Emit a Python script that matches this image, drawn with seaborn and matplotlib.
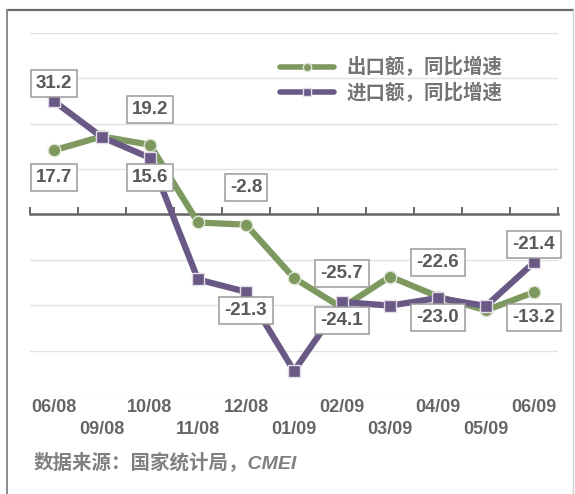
import numpy as np
import pandas as pd
import matplotlib
matplotlib.use("Agg")
import matplotlib.pyplot as plt
from matplotlib.lines import Line2D
import seaborn as sns

# --- 数据 ---
months = ["06/08", "09/08", "10/08", "11/08", "12/08", "01/09",
          "02/09", "03/09", "04/09", "05/09", "06/09"]
export_yoy = [17.7, 21.5, 19.2, -2.2, -2.8, -17.5, -25.7, -17.1, -22.6, -26.4, -21.4]
import_yoy = [31.2, 21.3, 15.6, -17.9, -21.3, -43.1, -24.1, -25.1, -23.0, -25.2, -13.2]

export_name = "出口额，同比增速"
import_name = "进口额，同比增速"

# 标注：(序列, 月份索引, 标注框纵向位置)
labels = [
    ("import", 0, 36.1), ("export", 0, 10.2),
    ("export", 2, 28.9), ("import", 2, 10.2),
    ("export", 4, 7.4), ("import", 4, -26.4),
    ("export", 6, -16.3), ("import", 6, -29.2),
    ("export", 8, -13.2), ("import", 8, -28.4),
    ("export", 10, -8.3), ("import", 10, -28.4),
]

green = "#7d9960"
purple = "#6a5985"
text_gray = "#5a5a5a"

df = pd.DataFrame({"idx": np.arange(len(months)),
                   "export": export_yoy, "import": import_yoy})

sns.set_style("white")
plt.rcParams['font.family'] = ['Liberation Sans', 'Noto Sans CJK SC', 'DejaVu Sans']

fig = plt.figure(figsize=(5.75, 4.94), dpi=100)
ax = fig.add_axes([30 / 575, 98 / 494, 528 / 575, 363 / 494])

sns.lineplot(data=df, x="idx", y="export", ax=ax, color=green, lw=4.5,
             marker="o", markersize=9, markeredgecolor="#dfe6d4",
             markeredgewidth=1, zorder=3, sort=False)
sns.lineplot(data=df, x="idx", y="import", ax=ax, color=purple, lw=4.5,
             marker="s", markersize=8, markeredgecolor="#e2dde9",
             markeredgewidth=1, zorder=4, sort=False)

ax.set_xlim(-0.5, len(months) - 0.5)
ax.set_ylim(-50, 50)
ax.set_yticks(np.arange(-50, 50.1, 12.5))
ax.yaxis.grid(True, color="#e2e2e2", lw=1)
ax.tick_params(axis="y", length=0, labelleft=False)
ax.set_xlabel("")
ax.set_ylabel("")

for s in ["top", "right", "left"]:
    ax.spines[s].set_visible(False)
ax.spines["bottom"].set_position(("data", 0))
ax.spines["bottom"].set_color("#666666")
ax.spines["bottom"].set_linewidth(1.8)
ax.spines["bottom"].set_zorder(2)
ax.set_xticks(np.arange(-0.5, len(months), 1.0))
ax.tick_params(axis="x", bottom=True, direction="in", length=5, width=1.4,
               color="#666666", labelbottom=False)

# 月份标签（两行交错）
tr = ax.get_xaxis_transform()
for i, m in enumerate(months):
    yy = -0.033 if i % 2 == 0 else -0.091
    ax.text(i, yy, m, transform=tr, ha="center", va="center",
            fontsize=13, fontweight="bold", color="#666666")

# 数值标注框
series = {"export": export_yoy, "import": import_yoy}
for name, i, ypos in labels:
    ax.text(i, ypos, f"{series[name][i]:.1f}", ha="center", va="center",
            fontsize=13.5, fontweight="bold", color=text_gray, zorder=6,
            bbox=dict(boxstyle="square,pad=0.28", fc="white", ec="#9a9a9a", lw=1.1))

# 图例
handles = [
    Line2D([], [], color=green, lw=4, marker="o", markersize=6,
           markeredgecolor="#dfe6d4", markeredgewidth=1),
    Line2D([], [], color=purple, lw=4, marker="s", markersize=6,
           markeredgecolor="#e2dde9", markeredgewidth=1),
]
leg = fig.legend(handles, [export_name, import_name], loc="center left",
                 bbox_to_anchor=(280 / 575, 1 - 80 / 494), frameon=False,
                 prop={"family": ['Noto Sans CJK SC', 'DejaVu Sans'],
                       "size": 14, "weight": "bold"},
                 handlelength=2.8, handletextpad=0.6,
                 labelspacing=0.25, borderpad=0, borderaxespad=0)
for t in leg.get_texts():
    t.set_color("#747474")

# 数据来源
fig.text(34 / 575, 1 - 462 / 494, "数据来源：国家统计局，CMEI", ha="left", va="center",
         fontsize=14, style="italic", fontweight="bold", color="#808080",
         family=['Liberation Sans', 'Noto Sans CJK SC'])

# 外框
fig.add_artist(Line2D([7 / 575, 573 / 575], [1 - 10 / 494, 1 - 10 / 494],
                      transform=fig.transFigure, color="#6a6a6a", lw=1.6))
fig.add_artist(Line2D([7 / 575, 7 / 575], [0, 1 - 10 / 494],
                      transform=fig.transFigure, color="#8a8a8a", lw=1.4))
fig.add_artist(Line2D([573 / 575, 573 / 575], [0, 1 - 10 / 494],
                      transform=fig.transFigure, color="#d0d0d0", lw=1))

fig.savefig("out.png", dpi=100, facecolor="white")
